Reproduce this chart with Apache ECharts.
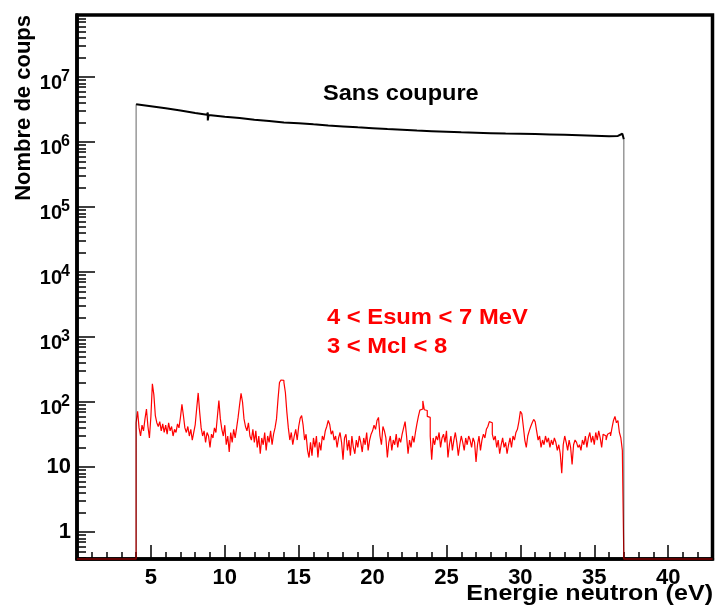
<!DOCTYPE html>
<html>
<head>
<meta charset="utf-8">
<script src="https://cdn.jsdelivr.net/npm/echarts@6/dist/echarts.min.js"></script>
<style>
  html, body { margin: 0; padding: 0; background: #fff; }
  #chart { width: 715px; height: 615px; }
</style>
</head>
<body>
<div id="chart"></div>
<script>
// axis range (eV) and log10 range of the counts axis
var xMin = 0;
var xMax = 43;
var yLogMin = -0.415;
var yLogMax = 7.954;

// red histogram : 4 < Esum < 7 MeV, 3 < Mcl < 8 — bins of 0.1 eV from 4 eV (one row per eV)
var redStart = 4.0;
var redWidth = 0.1;
var redCounts = [
  48, 72, 40, 30, 44, 36, 55, 78, 42, 28,
  60, 190, 130, 62, 48, 42, 50, 36, 46, 34,
  44, 32, 48, 36, 42, 30, 38, 34, 46, 40,
  58, 92, 62, 40, 34, 42, 30, 38, 26, 34,
  45, 80, 138, 70, 40, 30, 36, 24, 34, 30,
  20, 32, 28, 40, 34, 60, 105, 55, 38, 30,
  44, 22, 30, 17, 34, 24, 38, 28, 40, 58,
  90, 136, 100, 55, 42, 36, 48, 30, 26, 38,
  24, 36, 20, 30, 16, 28, 22, 34, 18, 30,
  24, 36, 22, 32, 40, 55, 110, 200, 218, 215,
  200, 140, 70, 40, 26, 34, 22, 30, 38, 26,
  42, 56, 62, 44, 26, 32, 18, 14, 24, 15,
  28, 20, 30, 14, 24, 18, 30, 26, 36, 42,
  52, 45, 32, 36, 26, 30, 20, 28, 34, 24,
  13, 28, 32, 18, 26, 15, 30, 20, 16, 26,
  20, 30, 24, 17, 28, 22, 34, 18, 26, 32,
  36, 44, 38, 52, 58, 30, 22, 42, 36, 28,
  14, 24, 30, 18, 26, 22, 32, 20, 28, 24,
  32, 40, 50, 30, 16, 26, 20, 30, 24, 34,
  46, 60, 75, 78, 104, 76, 74, 60, 58, 30,
  13, 28, 22, 30, 26, 34, 20, 28, 32, 24,
  36, 14, 22, 30, 18, 26, 34, 24, 15, 22,
  30, 24, 18, 28, 22, 30, 26, 20, 28, 24,
  12, 22, 30, 18, 26, 32, 28, 38, 42, 50,
  48, 32, 26, 30, 20, 26, 16, 22, 28, 20,
  24, 16, 22, 28, 20, 30, 26, 34, 38, 50,
  72, 66, 42, 26, 20, 30, 36, 42, 48, 54,
  50, 36, 26, 30, 20, 26, 22, 30, 24, 28,
  20, 26, 22, 28, 24, 18, 22, 16, 8, 22,
  30, 24, 18, 26, 20, 11, 22, 26, 24, 20,
  22, 18, 26, 22, 30, 20, 28, 34, 24, 30,
  22, 34, 26, 36, 28, 20, 32, 30, 26, 32,
  34, 30, 40, 52, 60, 48, 52, 34, 28, 18
];

// black histogram : sans coupure (smooth, read about every eV)
var blackEnergy = [4, 5, 6, 7, 8, 8.8, 8.85, 8.85, 8.9, 10, 11, 12, 13, 14, 15, 16, 17, 18, 19, 20,
  21, 22, 23, 24, 25, 26, 27, 28, 29, 30, 31, 32, 33, 34, 35, 36, 36.6, 36.9, 37];
var blackCounts = [3.8e6, 3.55e6, 3.3e6, 3.05e6, 2.8e6, 2.62e6, 2.85e6, 2.15e6, 2.6e6, 2.45e6, 2.35e6,
  2.2e6, 2.1e6, 2.0e6, 1.95e6, 1.87e6, 1.8e6, 1.74e6, 1.68e6, 1.63e6, 1.58e6, 1.54e6, 1.5e6, 1.47e6,
  1.44e6, 1.41e6, 1.39e6, 1.37e6, 1.35e6, 1.34e6, 1.33e6, 1.31e6, 1.29e6, 1.27e6, 1.25e6, 1.23e6,
  1.24e6, 1.34e6, 1.1e6];

// ticks
var xMajorTicks = [5, 10, 15, 20, 25, 30, 35, 40];
var xMinorTicks = [1, 2, 3, 4, 6, 7, 8, 9, 11, 12, 13, 14, 16, 17, 18, 19, 21, 22, 23, 24,
  26, 27, 28, 29, 31, 32, 33, 34, 36, 37, 38, 39, 41, 42];
var yDecades = [0, 1, 2, 3, 4, 5, 6, 7];
var yPlainDecades = [0, 1];
var yPowerDecades = [2, 3, 4, 5, 6, 7];
var yMinorMantissa = [2, 3, 4, 5, 6, 7, 8, 9];

function lg(v) {
  if (!v || v <= 0) return yLogMin;
  return Math.max(yLogMin, Math.log10(v));
}

var yMinorTicks = [];
for (var n = -1; n <= 7; n++) {
  yMinorMantissa.forEach(function (k) {
    var p = Math.log10(k) + n;
    if (p > yLogMin && p < yLogMax) yMinorTicks.push(p);
  });
}

// red histogram as a step line, empty bins sit on the bottom of the frame
var redData = [[xMin, yLogMin]];
for (var i = 0; i < redCounts.length; i++) {
  redData.push([redStart + i * redWidth, lg(redCounts[i])]);
}
var redEnd = redStart + redCounts.length * redWidth;
redData.push([redEnd, yLogMin], [xMax, yLogMin]);

var blackData = blackEnergy.map(function (e, i) { return [e, lg(blackCounts[i])]; });
var bFirst = blackEnergy[0], bLast = blackEnergy[blackEnergy.length - 1];
var blackLeft = [[xMin, yLogMin], [bFirst, yLogMin], [bFirst, lg(blackCounts[0])]];
var blackRight = [[bLast, lg(blackCounts[blackCounts.length - 1])], [bLast, yLogMin], [xMax, yLogMin]];

var FONT = '"Liberation Sans", Arial, Helvetica, sans-serif';
var TICK = { color: '#000', width: 1.5 };

function yAxisBase(extra) {
  var a = {
    type: 'value', min: yLogMin, max: yLogMax, position: 'left',
    axisLine: { show: false, onZero: false },
    axisTick: { show: false },
    axisLabel: { show: false },
    splitLine: { show: false }
  };
  for (var k in extra) a[k] = extra[k];
  return a;
}

var chart = echarts.init(document.getElementById('chart'));
chart.setOption({
  animation: false,
  backgroundColor: '#fff',
  grid: {
    left: 77, right: 2.5, top: 15, bottom: 56,
    show: true, borderColor: '#000', borderWidth: 3.5,
    outerBoundsMode: 'none'
  },
  xAxis: [
    {
      type: 'value', min: xMin, max: xMax, position: 'bottom',
      axisLine: { show: true, onZero: false, lineStyle: { color: '#000', width: 3.5 } },
      axisTick: { show: true, inside: true, length: 14, customValues: xMajorTicks, lineStyle: TICK },
      axisLabel: {
        show: true, customValues: xMajorTicks, margin: 8,
        color: '#000', fontSize: 22, fontWeight: 'bold', fontFamily: FONT
      },
      splitLine: { show: false }
    },
    {
      type: 'value', min: xMin, max: xMax, position: 'bottom',
      axisLine: { show: false, onZero: false },
      axisTick: { show: true, inside: true, length: 7, customValues: xMinorTicks, lineStyle: TICK },
      axisLabel: { show: false },
      splitLine: { show: false }
    }
  ],
  yAxis: [
    yAxisBase({
      axisLine: { show: true, onZero: false, lineStyle: { color: '#000', width: 3.5 } },
      axisTick: { show: true, inside: true, length: 18, customValues: yDecades, lineStyle: TICK },
      axisLabel: {
        show: true, customValues: yPlainDecades, margin: 6,
        color: '#000', fontSize: 22, fontWeight: 'bold', fontFamily: FONT,
        formatter: function (v) { return Math.round(v) === 0 ? '1' : '10'; }
      }
    }),
    yAxisBase({
      axisTick: { show: true, inside: true, length: 9, customValues: yMinorTicks, lineStyle: TICK },
      // base "10" of 10^n labels, sitting just under the tick
      axisLabel: {
        show: true, customValues: yPowerDecades, margin: 15,
        color: '#000', fontSize: 20, fontWeight: 'bold', fontFamily: FONT,
        lineHeight: 12, verticalAlign: 'top',
        formatter: function () { return '10'; }
      }
    }),
    yAxisBase({
      // exponents of 10^n labels
      axisLabel: {
        show: true, customValues: yPowerDecades, margin: 7,
        color: '#000', fontSize: 16, fontWeight: 'bold', fontFamily: FONT,
        formatter: function (v) { return String(Math.round(v)); }
      }
    })
  ],
  series: [
    {
      type: 'line', step: 'end', data: redData, showSymbol: false, clip: false,
      lineStyle: { color: '#ff0000', width: 1.2 }, z: 3
    },
    {
      type: 'line', data: blackData, showSymbol: false, clip: false,
      lineStyle: { color: '#000', width: 2 }, z: 4
    },
    {
      type: 'line', data: blackLeft, showSymbol: false, clip: false,
      lineStyle: { color: 'rgba(0,0,0,0.5)', width: 1.2 }, z: 4
    },
    {
      type: 'line', data: blackRight, showSymbol: false, clip: false,
      lineStyle: { color: 'rgba(0,0,0,0.5)', width: 1.2 }, z: 4
    }
  ],
  graphic: [
    {
      type: 'text', x: 323, y: 94, scaleX: 1.07,
      style: { text: 'Sans coupure', font: 'bold 22px ' + FONT, fill: '#000', verticalAlign: 'middle' }
    },
    {
      type: 'text', x: 327, y: 318, scaleX: 1.08,
      style: { text: '4 < Esum < 7 MeV', font: 'bold 22px ' + FONT, fill: '#ff0000', verticalAlign: 'middle' }
    },
    {
      type: 'text', x: 327, y: 347, scaleX: 1.08,
      style: { text: '3 < Mcl < 8', font: 'bold 22px ' + FONT, fill: '#ff0000', verticalAlign: 'middle' }
    },
    {
      type: 'text', x: 24, y: 15, rotation: Math.PI / 2,
      style: { text: 'Nombre de coups', font: 'bold 22px ' + FONT, fill: '#000', align: 'right', verticalAlign: 'middle' }
    },
    {
      type: 'text', x: 713, y: 594, scaleX: 1.14,
      style: { text: 'Energie neutron (eV)', font: 'bold 22px ' + FONT, fill: '#000', align: 'right', verticalAlign: 'middle' }
    }
  ]
});
</script>
</body>
</html>
